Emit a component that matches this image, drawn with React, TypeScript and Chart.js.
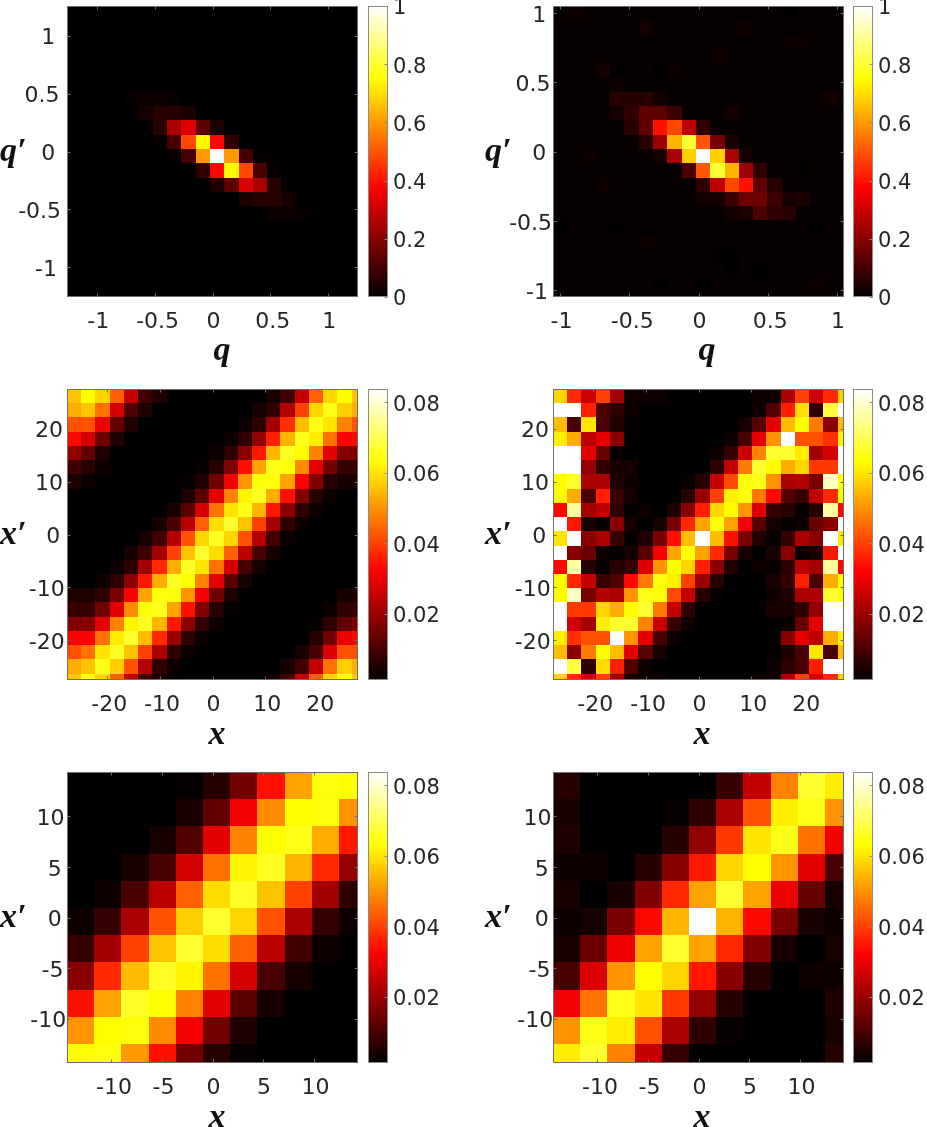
import React, { useEffect, useRef } from "react";
import { Chart, registerables } from "chart.js";

Chart.register(...registerables);

// ---------- data (rows run from the top of each picture, columns from the left) ----------
const qTicks = [-1, -0.5, 0, 0.5, 1];
const xTicksWide = [-20, -10, 0, 10, 20];
const xTicksNarrow = [-10, -5, 0, 5, 10];
const unitBarTicks = [0, 0.2, 0.4, 0.6, 0.8, 1];
const smallBarTicks = [0.02, 0.04, 0.06, 0.08];

// percent of the peak
const qTheory = [
  [0,0,0,0,0,0,0,0,0,0,0,0,0,0,0,0,0,0,0,0,0],
  [0,0,0,0,0,0,0,0,0,0,0,0,0,0,0,0,0,0,0,0,0],
  [0,0,0,0,0,0,0,0,0,0,0,0,0,0,0,0,0,0,0,0,0],
  [0,0,0,0,0,0,0,0,0,0,0,0,0,0,0,0,0,0,0,0,0],
  [0,0,0,0,0,0,0,0,0,0,0,0,0,0,0,0,0,0,0,0,0],
  [0,0,0,0,0,0,0,0,0,0,0,0,0,0,0,0,0,0,0,0,0],
  [0,0,0,0,1,2,2,1,0,0,0,0,0,0,0,0,0,0,0,0,0],
  [0,0,0,0,0,3,6,6,4,0,0,0,0,0,0,0,0,0,0,0,0],
  [0,0,0,0,0,0,6,25,32,14,4,0,0,0,0,0,0,0,0,0,0],
  [0,0,0,0,0,0,1,11,48,74,38,7,0,0,0,0,0,0,0,0,0],
  [0,0,0,0,0,0,0,1,10,60,100,60,10,1,0,0,0,0,0,0,0],
  [0,0,0,0,0,0,0,0,0,7,38,74,48,11,1,0,0,0,0,0,0],
  [0,0,0,0,0,0,0,0,0,0,4,14,32,25,6,0,0,0,0,0,0],
  [0,0,0,0,0,0,0,0,0,0,0,0,4,6,6,3,0,0,0,0,0],
  [0,0,0,0,0,0,0,0,0,0,0,0,0,0,2,2,1,0,0,0,0],
  [0,0,0,0,0,0,0,0,0,0,0,0,0,0,0,0,0,0,0,0,0],
  [0,0,0,0,0,0,0,0,0,0,0,0,0,0,0,0,0,0,0,0,0],
  [0,0,0,0,0,0,0,0,0,0,0,0,0,0,0,0,0,0,0,0,0],
  [0,0,0,0,0,0,0,0,0,0,0,0,0,0,0,0,0,0,0,0,0],
  [0,0,0,0,0,0,0,0,0,0,0,0,0,0,0,0,0,0,0,0,0],
  [0,0,0,0,0,0,0,0,0,0,0,0,0,0,0,0,0,0,0,0,0],
];

const qMeasured = [
  [1,2,1,1,1,1,1,1,1,1,1,1,1,1,1,1,0,1,1,1,1],
  [1,1,1,1,1,1,3,1,1,1,1,1,1,2,1,1,1,1,1,1,1],
  [1,1,1,1,1,1,1,1,1,1,1,1,1,1,1,1,2,2,1,1,1],
  [1,1,1,1,1,1,1,1,1,1,1,2,1,1,1,1,1,1,1,1,1],
  [1,1,1,3,0,1,1,0,2,1,1,1,1,1,1,1,1,1,1,1,1],
  [1,1,1,1,2,1,1,1,1,1,1,1,1,1,1,1,1,1,1,1,1],
  [1,1,1,1,6,6,6,3,1,1,1,1,1,1,1,1,1,1,1,3,1],
  [1,1,1,1,3,7,14,14,9,1,1,1,3,1,1,1,1,1,1,1,1],
  [1,1,1,1,1,6,14,40,48,28,7,1,1,1,1,1,1,1,1,1,1],
  [1,1,1,1,1,1,6,23,64,80,50,17,4,1,1,1,1,1,1,1,1],
  [1,1,2,1,1,1,1,3,25,68,100,68,25,3,1,1,1,1,1,1,1],
  [1,1,1,1,1,1,1,1,1,11,50,80,64,23,7,1,1,0,1,1,1],
  [1,1,1,2,1,1,1,1,1,1,7,28,48,40,14,6,1,1,1,1,1],
  [1,1,1,1,1,1,1,1,1,1,3,3,9,16,16,9,3,4,1,1,1],
  [1,1,1,1,1,1,1,1,1,1,1,1,3,4,11,7,6,1,1,1,1],
  [0,1,1,1,0,1,1,1,1,1,1,1,1,1,1,1,1,1,0,1,1],
  [1,1,1,1,1,1,2,1,1,1,1,1,1,1,1,1,1,1,1,1,1],
  [1,1,1,1,1,1,1,1,1,1,1,0,0,1,1,1,1,1,1,1,1],
  [1,1,1,1,1,1,1,1,1,1,1,1,0,1,0,1,1,1,1,1,1],
  [1,1,1,1,1,1,1,0,1,1,0,1,1,1,1,1,1,1,2,1,1],
  [1,1,1,1,1,1,1,1,1,1,1,1,1,1,1,1,1,1,1,1,1],
];

// thousandths
const xWideTheory = [
  [56,63,58,44,25,9,5,1,1,1,1,1,1,1,4,9,25,44,58,63,56],
  [53,56,46,27,11,5,1,1,1,1,1,1,1,4,7,23,40,58,65,57,53],
  [42,42,30,13,5,1,1,1,1,1,1,1,3,7,21,38,55,65,60,48,42],
  [33,27,15,5,1,1,1,1,1,1,1,3,7,19,36,54,65,61,46,32,33],
  [19,13,5,1,1,1,1,1,1,1,3,7,18,35,54,66,63,48,29,17,17],
  [9,6,3,1,1,1,1,1,1,2,6,17,34,52,65,64,49,29,15,8,8],
  [5,3,1,1,1,1,1,1,2,5,15,31,50,64,64,52,32,17,6,4,5],
  [1,1,1,1,1,1,1,1,5,12,29,48,62,66,53,34,17,6,3,1,1],
  [1,1,1,1,1,1,1,4,12,27,46,60,65,54,35,18,7,3,1,1,1],
  [1,1,1,1,1,1,4,10,24,44,59,67,56,40,21,7,3,1,1,1,1],
  [1,1,1,1,1,4,9,23,42,58,66,58,42,23,9,3,1,1,1,1,1],
  [1,1,1,1,4,9,21,40,56,67,59,44,24,10,4,1,1,1,1,1,1],
  [1,1,1,3,7,21,37,53,66,60,46,27,10,4,1,1,1,1,1,1,1],
  [1,1,3,7,18,35,53,66,63,48,29,12,4,1,1,1,1,1,1,1,1],
  [5,5,7,16,32,52,64,64,50,31,15,5,1,1,1,1,1,1,1,4,5],
  [8,8,15,29,49,64,65,52,34,17,6,2,1,1,1,1,1,1,3,7,8],
  [17,17,29,48,62,66,54,35,18,7,3,1,1,1,1,1,1,2,7,13,17],
  [32,32,46,61,67,55,37,20,7,3,1,1,1,1,1,1,1,6,15,30,33],
  [42,46,60,66,56,40,22,7,3,1,1,1,1,1,1,1,4,10,28,42,42],
  [53,56,65,57,42,23,7,3,1,1,1,1,1,1,1,4,9,25,46,57,53],
  [56,63,58,44,25,9,5,1,1,1,1,1,1,1,4,9,25,44,58,63,56],
];

const xWideMeasured = [
  [58,37,26,40,21,3,3,3,1,1,1,1,1,1,3,3,22,40,26,37,58],
  [84,84,36,10,7,3,1,1,1,1,1,1,1,1,3,11,36,59,7,68,84],
  [55,10,60,10,5,2,1,1,1,1,1,1,1,4,12,29,55,63,47,18,55],
  [61,53,24,29,18,2,1,1,1,1,1,1,3,10,29,50,84,42,42,38,61],
  [84,84,29,14,2,1,1,1,1,1,1,3,8,26,48,67,67,61,21,27,84],
  [84,84,19,7,4,4,1,1,1,1,1,7,25,47,67,63,53,58,39,39,84],
  [63,67,22,22,5,3,1,1,1,2,6,25,41,64,65,50,22,23,16,79,63],
  [63,53,10,36,8,4,1,1,1,6,20,40,61,64,47,33,11,8,25,37,63],
  [33,76,21,24,7,2,3,1,5,18,36,58,63,50,28,8,6,2,6,76,33],
  [84,35,4,2,18,4,1,4,16,37,52,64,52,31,12,4,2,3,14,18,84],
  [60,84,18,22,8,2,5,16,34,55,84,55,34,16,5,2,8,22,18,84,60],
  [84,18,14,3,2,4,12,31,52,64,52,37,16,4,1,4,18,2,4,35,84],
  [33,76,6,2,6,8,28,50,63,58,36,18,5,1,3,2,7,24,21,76,33],
  [63,37,25,8,11,33,47,64,61,40,20,6,1,1,1,4,8,36,10,53,63],
  [63,79,16,23,22,50,65,64,41,25,6,2,1,1,1,3,5,22,22,67,63],
  [84,39,39,58,53,63,67,47,25,7,1,1,1,1,1,4,4,7,19,84,84],
  [84,27,21,61,67,67,48,26,8,3,1,1,1,1,1,1,2,14,29,84,84],
  [61,38,42,42,84,50,29,10,3,1,1,1,1,1,1,2,18,29,24,53,61],
  [55,18,47,63,55,29,12,4,1,1,1,1,1,1,1,2,5,10,60,10,55],
  [84,68,7,59,36,11,3,1,1,1,1,1,1,1,1,3,7,10,36,84,84],
  [58,37,26,40,21,3,3,3,1,1,1,1,1,1,3,3,22,40,26,37,58],
];

const xNarrowTheory = [
  [1,1,1,1,2,6,15,34,52,64,63],
  [1,1,1,1,4,13,31,49,63,64,50],
  [1,1,1,4,11,29,48,63,65,53,35],
  [1,1,4,10,27,46,62,66,54,37,19],
  [1,3,10,24,44,59,66,56,40,21,7],
  [3,8,22,42,57,67,58,42,22,8,3],
  [8,21,40,56,67,59,44,24,9,3,1],
  [18,37,55,66,62,46,27,10,4,1,1],
  [34,52,66,63,48,29,12,4,1,1,1],
  [50,63,64,49,31,15,5,1,1,1,1],
  [63,64,51,34,15,6,2,1,1,1,1],
];

const xNarrowMeasured = [
  [6,1,1,1,1,1,8,25,48,67,61],
  [4,1,1,1,2,7,22,42,61,65,50],
  [5,1,1,1,6,19,39,60,65,46,31],
  [3,3,1,6,18,35,58,63,50,29,10],
  [4,1,4,17,37,52,67,52,30,14,4],
  [3,4,16,33,54,84,54,33,16,4,3],
  [4,14,30,52,67,52,37,17,4,1,4],
  [10,28,50,63,58,35,18,6,1,3,3],
  [31,46,65,60,39,19,6,1,1,1,5],
  [50,65,61,42,22,7,2,1,1,1,4],
  [61,67,48,25,8,1,1,1,1,1,6],
];

// ---------- colour map (the library draws cells, this only turns a value into a colour) ----------
const clamp01 = (v: number) => Math.max(0, Math.min(1, v));
function hot(t: number) {
  const r = clamp01(t / 0.375);
  const g = clamp01((t - 0.375) / 0.375);
  const b = clamp01((t - 0.75) / 0.25);
  return `rgb(${Math.round(r * 255)},${Math.round(g * 255)},${Math.round(b * 255)})`;
}

const BOX = "#6e6e6e";
const BAR_BOX = "#8c8c8c";
const TEXT = "#262626";
const TICK_FONT = "DejaVu Sans";
const PLOT = 291;
const TOP_PAD = 16;
const BELOW = 70;

function quiet(s: any, w?: number, h?: number) {
  if (w !== undefined) s.width = w;
  if (h !== undefined) s.height = h;
  s.paddingLeft = s.paddingRight = s.paddingTop = s.paddingBottom = 0;
}

const heatPlugin = {
  id: "heat",
  beforeDraw(chart: any) {
    const o = chart.options.plugins.heat;
    const ctx = chart.ctx;
    [["x", o.xShift, 0], ["y", o.yShift, 3]].forEach(([id, k, dy]: any) => {
      const scale = chart.scales[id];
      if (!scale.options.display) return;
      ctx.save();
      ctx.font = `${scale.options.ticks.font.size}px ${TICK_FONT}`;
      scale.getLabelItems(chart.chartArea).forEach((it: any) => {
        if (it.__moved) return;
        it.__moved = true;
        const w = ctx.measureText(String(it.label)).width;
        it.options.translation[0] += k * w;
        it.options.translation[1] += dy;
      });
      ctx.restore();
    });
  },
  afterDatasetsDraw(chart: any) {
    const o = chart.options.plugins.heat;
    const { ctx, chartArea: a, scales } = chart;
    const { x, y } = scales;
    ctx.save();
    ctx.beginPath();
    ctx.rect(a.left, a.top, a.right - a.left, a.bottom - a.top);
    ctx.clip();
    chart.data.datasets[0].data.forEach((p: any) => {
      const l = Math.round(x.getPixelForValue(p.x - p.w / 2));
      const r = Math.round(x.getPixelForValue(p.x + p.w / 2));
      const t = Math.round(y.getPixelForValue(p.y + p.h / 2));
      const b = Math.round(y.getPixelForValue(p.y - p.h / 2));
      ctx.fillStyle = hot(clamp01((p.v - o.min) / (o.max - o.min)));
      ctx.fillRect(l, t, r - l, b - t);
    });
    ctx.restore();

    // box and inward ticks
    const L = Math.round(a.left) + 0.5;
    const R = Math.round(a.right) - 0.5;
    const T = Math.round(a.top) + 0.5;
    const B = Math.round(a.bottom) - 0.5;
    ctx.save();
    ctx.strokeStyle = o.box;
    ctx.lineWidth = 1;
    ctx.strokeRect(L, T, R - L, B - T);
    ctx.beginPath();
    const tl = 3;
    if (x.options.display) {
      x.ticks.forEach((t: any) => {
        const px = Math.round(x.getPixelForValue(t.value)) + 0.5;
        ctx.moveTo(px, B); ctx.lineTo(px, B - tl);
        ctx.moveTo(px, T); ctx.lineTo(px, T + tl);
      });
    }
    y.ticks.forEach((t: any) => {
      const py = Math.round(y.getPixelForValue(t.value)) + 0.5;
      ctx.moveTo(R, py); ctx.lineTo(R - tl, py);
      if (!o.isBar) { ctx.moveTo(L, py); ctx.lineTo(L + tl, py); }
    });
    ctx.stroke();
    ctx.restore();

    // horizontal math-style axis names
    if (o.xName) {
      ctx.save();
      ctx.fillStyle = "#111";
      ctx.font = "italic bold 34px 'Liberation Serif'";
      ctx.textBaseline = "alphabetic";
      ctx.textAlign = "center";
      ctx.fillText(o.xName, o.xNameX, a.bottom + o.xNameDy);
      ctx.textAlign = "left";
      ctx.fillText(o.yName, o.yNameX, (a.top + a.bottom) / 2 + o.yNameDy);
      ctx.restore();
    }
  },
};

function HeatPanel(props: any) {
  const { left, top, rows, scale, lim, cols, xTicks, yTicks, yPad, xName, yName, xNameX, xNameDy, yNameX, yNameDy, min, max } = props;
  const ref = useRef<HTMLCanvasElement | null>(null);
  const yAxisW = left.plot - left.canvas;
  const width = yAxisW + PLOT + 10;
  const height = TOP_PAD + PLOT + BELOW;
  useEffect(() => {
    const pitch = (2 * lim) / cols;
    const points: any[] = [];
    rows.forEach((row: number[], r: number) =>
      row.forEach((v: number, c: number) =>
        points.push({
          x: -lim + pitch * (c + 0.5),
          y: lim - pitch * (r + 0.5),
          w: pitch,
          h: pitch,
          v: v / scale,
        })
      )
    );
    const chart = new Chart(ref.current as any, {
      type: "scatter",
      data: { datasets: [{ data: points, pointRadius: 0, showLine: false }] },
      plugins: [heatPlugin],
      options: {
        animation: false,
        responsive: false,
        devicePixelRatio: 1,
        layout: { padding: { left: 0, top: TOP_PAD, right: 10, bottom: 0 } },
        plugins: {
          legend: { display: false },
          tooltip: { enabled: false },
          heat: { min, max, box: BOX, xShift: 0.07, yShift: 0.2, xName, yName, xNameX: xNameX - left.canvas, xNameDy, yNameX: yNameX - left.canvas, yNameDy },
        } as any,
        scales: {
          x: {
            type: "linear", min: -lim, max: lim,
            grid: { display: false, drawTicks: false }, border: { display: false },
            ticks: { autoSkip: false, maxRotation: 0, padding: 12, color: TEXT, font: { family: TICK_FONT, size: 22 }, callback: (v: any) => String(v) },
            afterBuildTicks: (s: any) => { s.ticks = xTicks.map((value: number) => ({ value })); },
            afterFit: (s: any) => quiet(s, undefined, BELOW),
          },
          y: {
            type: "linear", min: -lim, max: lim,
            grid: { display: false, drawTicks: false }, border: { display: false },
            ticks: { autoSkip: false, maxRotation: 0, padding: yPad, color: TEXT, font: { family: TICK_FONT, size: 22 }, callback: (v: any) => String(v) },
            afterBuildTicks: (s: any) => { s.ticks = yTicks.map((value: number) => ({ value })); },
            afterFit: (s: any) => quiet(s, yAxisW),
          },
        },
      } as any,
    });
    return () => chart.destroy();
  }, []);
  return (
    <canvas ref={ref} width={width} height={height}
      style={{ position: "absolute", left: left.canvas, top: top - TOP_PAD, width, height }} />
  );
}

function ColorBar(props: any) {
  const { left, top, min, max, ticks } = props;
  const ref = useRef<HTMLCanvasElement | null>(null);
  const barW = 20;
  const width = barW + 60;
  const height = TOP_PAD + PLOT + TOP_PAD;
  useEffect(() => {
    const levels: any[] = [];
    const n = 256;
    const step = (max - min) / n;
    for (let i = 0; i < n; i++) {
      levels.push({ x: 0.5, y: min + step * (i + 0.5), w: 1, h: step * 1.02, v: min + step * (i + 0.5) });
    }
    const chart = new Chart(ref.current as any, {
      type: "scatter",
      data: { datasets: [{ data: levels, pointRadius: 0, showLine: false }] },
      plugins: [heatPlugin],
      options: {
        animation: false,
        responsive: false,
        devicePixelRatio: 1,
        layout: { padding: { left: 0, top: TOP_PAD, right: 0, bottom: TOP_PAD } },
        plugins: {
          legend: { display: false },
          tooltip: { enabled: false },
          heat: { min, max, box: BAR_BOX, isBar: true, xShift: 0, yShift: 0 },
        } as any,
        scales: {
          x: { type: "linear", display: false, min: 0, max: 1 },
          y: {
            type: "linear", position: "right", min, max,
            grid: { display: false, drawTicks: false }, border: { display: false },
            ticks: { autoSkip: false, maxRotation: 0, padding: 5, color: TEXT, font: { family: TICK_FONT, size: 21 }, callback: (v: any) => String(v) },
            afterBuildTicks: (s: any) => { s.ticks = ticks.map((value: number) => ({ value })); },
            afterFit: (s: any) => quiet(s, 60),
          },
        },
      } as any,
    });
    return () => chart.destroy();
  }, []);
  return (
    <canvas ref={ref} width={width} height={height}
      style={{ position: "absolute", left, top: top - TOP_PAD, width, height }} />
  );
}

const LEFT_COL = { canvas: -10, plot: 67 };
const RIGHT_COL = { canvas: 470, plot: 553 };
const ROW_TOPS = [6, 389, 772];
const SMALL_MIN = 0.0013;
const SMALL_MAX = 0.0837;

export default function App() {
  return (
    <div style={{ position: "absolute", left: 0, top: 0, width: 927, height: 1127, overflow: "hidden", background: "#fff" }}>
      <HeatPanel left={LEFT_COL} top={ROW_TOPS[0]} rows={qTheory} scale={100} lim={1.257} cols={20.35}
        xTicks={qTicks} yTicks={qTicks} yPad={14.5} min={0} max={1}
        xName="q" yName="q′" xNameX={222} xNameDy={63} yNameX={0} yNameDy={9} />
      <ColorBar left={368} top={ROW_TOPS[0]} min={0} max={1} ticks={unitBarTicks} />
      <HeatPanel left={RIGHT_COL} top={ROW_TOPS[0]} rows={qMeasured} scale={100} lim={1.05} cols={20.35}
        xTicks={qTicks} yTicks={qTicks} yPad={9.5} min={0} max={1}
        xName="q" yName="q′" xNameX={707} xNameDy={63} yNameX={485} yNameDy={9} />
      <ColorBar left={853} top={ROW_TOPS[0]} min={0} max={1} ticks={unitBarTicks} />

      <HeatPanel left={LEFT_COL} top={ROW_TOPS[1]} rows={xWideTheory} scale={1000} lim={27.5} cols={20.45}
        xTicks={xTicksWide} yTicks={xTicksWide} yPad={9.5} min={SMALL_MIN} max={SMALL_MAX}
        xName="x" yName="x′" xNameX={217} xNameDy={64} yNameX={0} yNameDy={9} />
      <ColorBar left={368} top={ROW_TOPS[1]} min={SMALL_MIN} max={SMALL_MAX} ticks={smallBarTicks} />
      <HeatPanel left={RIGHT_COL} top={ROW_TOPS[1]} rows={xWideMeasured} scale={1000} lim={27.5} cols={20.45}
        xTicks={xTicksWide} yTicks={xTicksWide} yPad={9.5} min={SMALL_MIN} max={SMALL_MAX}
        xName="x" yName="x′" xNameX={702} xNameDy={64} yNameX={485} yNameDy={9} />
      <ColorBar left={853} top={ROW_TOPS[1]} min={SMALL_MIN} max={SMALL_MAX} ticks={smallBarTicks} />

      <HeatPanel left={LEFT_COL} top={ROW_TOPS[2]} rows={xNarrowTheory} scale={1000} lim={14.4} cols={10.7}
        xTicks={xTicksNarrow} yTicks={xTicksNarrow} yPad={8} min={SMALL_MIN} max={SMALL_MAX}
        xName="x" yName="x′" xNameX={217} xNameDy={64} yNameX={0} yNameDy={9} />
      <ColorBar left={368} top={ROW_TOPS[2]} min={SMALL_MIN} max={SMALL_MAX} ticks={smallBarTicks} />
      <HeatPanel left={RIGHT_COL} top={ROW_TOPS[2]} rows={xNarrowMeasured} scale={1000} lim={14.4} cols={10.7}
        xTicks={xTicksNarrow} yTicks={xTicksNarrow} yPad={7} min={SMALL_MIN} max={SMALL_MAX}
        xName="x" yName="x′" xNameX={702} xNameDy={64} yNameX={485} yNameDy={9} />
      <ColorBar left={853} top={ROW_TOPS[2]} min={SMALL_MIN} max={SMALL_MAX} ticks={smallBarTicks} />
    </div>
  );
}
